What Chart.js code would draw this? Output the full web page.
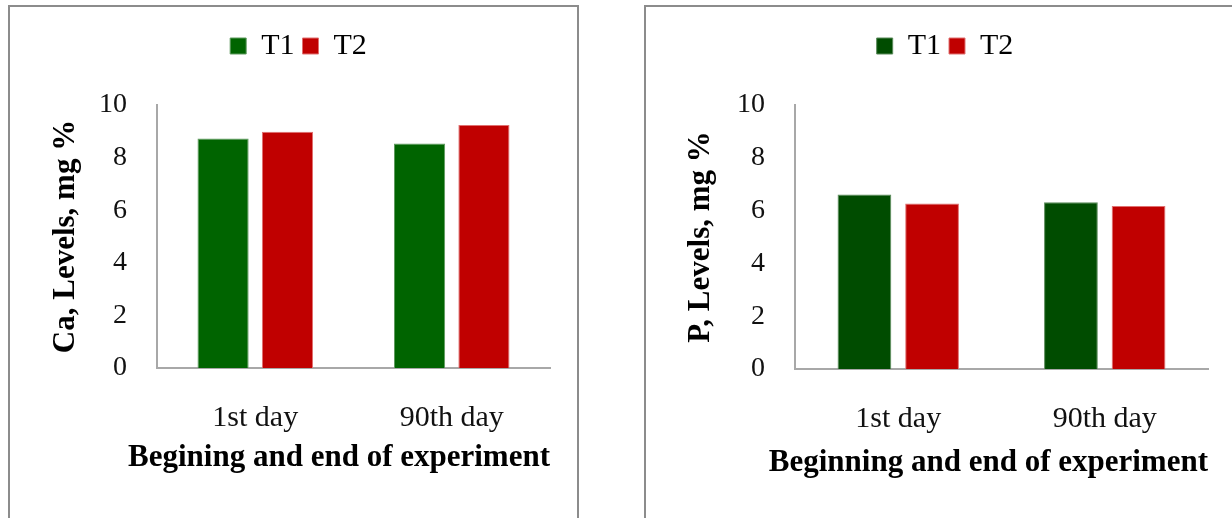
<!DOCTYPE html>
<html>
<head>
<meta charset="utf-8">
<script src="https://cdn.jsdelivr.net/npm/chart.js@4.4.1/dist/chart.umd.min.js"></script>
<style>
  html, body { margin: 0; padding: 0; background: #fff; overflow: hidden; width: 1232px; height: 518px; }
  .panel { position: absolute; border: 2px solid #8c8c8c; box-sizing: border-box; }
  #p1 { left: 8px; top: 5px; width: 571px; height: 560px; }
  #p2 { left: 644px; top: 5px; width: 640px; height: 560px; }
  canvas { position: absolute; }
  #c1 { left: 10px; top: 8px; }
  #c2 { left: 647px; top: 8px; }
</style>
</head>
<body>
<div class="panel" id="p1"></div>
<div class="panel" id="p2"></div>
<canvas id="c1" width="566" height="510"></canvas>
<canvas id="c2" width="585" height="510"></canvas>
<script>
// Sampling points and series
const categories = ['1st day', '90th day'];
const seriesNames = ['T1', 'T2'];

// Calcium, mg %
const caT1 = [8.73, 8.54];
const caT2 = [8.98, 9.24];

// Phosphorus, mg %
const pT1 = [6.61, 6.32];
const pT2 = [6.27, 6.17];

const yTicks = [0, 2, 4, 6, 8, 10];

const SERIF = "'Liberation Serif', 'Times New Roman', serif";

function buildChart(id, o) {
  // keeps a fixed gap between the legend row and the plot
  const legendGap = {
    id: 'legendGap',
    beforeInit(chart) {
      const lg = chart.legend;
      const fit = lg.fit;
      lg.fit = function () { fit.call(this); this.height = o.legendHeight; };
    }
  };

  return new Chart(document.getElementById(id), {
    type: 'bar',
    data: {
      labels: categories,
      datasets: [
        { label: seriesNames[0], data: o.t1, backgroundColor: o.c1, borderColor: o.b1, borderWidth: 1,
          categoryPercentage: 0.655, barPercentage: 0.795 },
        { label: seriesNames[1], data: o.t2, backgroundColor: o.c2, borderColor: o.b2, borderWidth: 1,
          categoryPercentage: 0.655, barPercentage: 0.795 }
      ]
    },
    options: {
      responsive: false,
      animation: false,
      events: [],
      layout: { padding: { left: o.padLeft, right: o.padRight, top: o.padTop, bottom: 0 } },
      plugins: {
        tooltip: { enabled: false },
        legend: {
          position: 'top',
          labels: { boxWidth: 16, boxHeight: 16, padding: 8, color: '#000',
                    font: { family: SERIF, size: 30 } }
        },
        // x-axis caption, set as a full-width bottom title so it may run past the plot
        title: {
          display: true, position: 'bottom', align: 'end', text: o.xTitle, color: '#000',
          padding: { top: 0, bottom: o.xTitlePad },
          font: { family: SERIF, size: 31, weight: 'bold', lineHeight: 1.2 }
        }
      },
      scales: {
        x: {
          grid: { display: false, drawTicks: false },
          border: { display: true, color: '#a8a8a8', width: 2 },
          ticks: { color: '#111', padding: 32, font: { family: SERIF, size: 30 } },
          afterFit(s) { s.height = o.xHeight; }
        },
        y: {
          min: 0, max: 10,
          afterBuildTicks(s) { s.ticks = yTicks.map(v => ({ value: v })); },
          grid: { display: false, drawTicks: false },
          border: { display: true, color: '#a8a8a8', width: 2 },
          ticks: { color: '#111', padding: 30, font: { family: SERIF, size: 28 } },
          title: { display: true, text: o.yTitle, color: '#000', padding: { top: o.yTitlePad, bottom: 0 },
                   font: { family: SERIF, size: 31, weight: 'bold' } },
          afterFit(s) { s.width = o.yWidth; }
        }
      }
    },
    plugins: [legendGap]
  });
}

buildChart('c1', {
  t1: caT1, t2: caT2,
  c1: '#006400', b1: '#5f9a5f', c2: '#c00000', b2: '#e07070',
  yTitle: 'Ca, Levels, mg %',
  xTitle: 'Begining and end of experiment',
  padLeft: 37, padRight: 26, padTop: 15,
  yWidth: 110, xHeight: 71.8, legendHeight: 82,
  yTitlePad: 0, xTitlePad: 41
});

buildChart('c2', {
  t1: pT1, t2: pT2,
  c1: '#004c00', b1: '#5a8a5a', c2: '#c00000', b2: '#e07070',
  yTitle: 'P, Levels, mg %',
  xTitle: 'Beginning and end of experiment',
  padLeft: 35, padRight: 24, padTop: 15,
  yWidth: 113, xHeight: 75.8, legendHeight: 82,
  yTitlePad: 0, xTitlePad: 36
});
</script>
</body>
</html>
